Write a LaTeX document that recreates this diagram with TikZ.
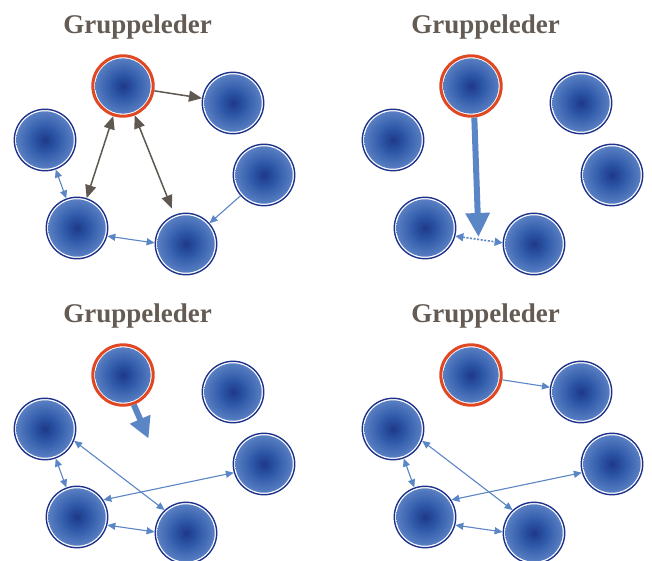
\documentclass[tikz,border=0pt]{standalone}
\usepackage{fontspec}
\setmainfont{Liberation Serif}
\usetikzlibrary{arrows.meta}

\definecolor{titlegray}{RGB}{100,92,84}
\definecolor{linkbrown}{RGB}{95,88,81}
\definecolor{linkblue}{RGB}{91,134,197}
\definecolor{leadred}{RGB}{224,72,36}
\definecolor{ringnavy}{RGB}{30,50,140}
\definecolor{ballin}{RGB}{30,56,136}
\definecolor{ballmid}{RGB}{46,88,168}
\definecolor{ballout}{RGB}{94,132,198}
\pgfdeclareradialshading{ballshade}{\pgfpointorigin}{color(0bp)=(ballin); color(10bp)=(ballmid); color(25bp)=(ballout); color(50bp)=(ballout)}

\tikzset{
  member/.style={circle, inner sep=0pt, minimum size=61.4pt, draw=ringnavy,
    line width=1.4pt, fill=white,
    path picture={\shade[shading=ballshade] (path picture bounding box.center) circle (28.7pt);}},
  leader/.style={circle, inner sep=0pt, minimum size=60.4pt, draw=leadred,
    line width=3pt, fill=white,
    path picture={\shade[shading=ballshade] (path picture bounding box.center) circle (27.7pt);}},
  title/.style={anchor=base, text=titlegray, inner sep=0pt,
    font=\fontsize{27}{32}\selectfont\bfseries},
  boss/.style={draw=linkbrown, line width=1.5pt, -{Triangle[length=13pt,width=11pt]}},
  bossboth/.style={draw=linkbrown, line width=1.5pt,
    {Triangle[length=13pt,width=11pt]}-{Triangle[length=13pt,width=11pt]}},
  peer/.style={draw=linkblue, line width=1.1pt,
    {Triangle[length=8pt,width=7pt]}-{Triangle[length=8pt,width=7pt]}},
  peerone/.style={draw=linkblue, line width=1.1pt, -{Triangle[length=8pt,width=7pt]}},
  peerdotted/.style={draw=linkblue, line width=1.6pt, dash pattern=on 2pt off 1.6pt,
    {Triangle[length=8pt,width=8pt]}-{Triangle[length=8pt,width=8pt]}},
  push/.style={draw=linkblue, line width=6pt, -{Triangle[length=24pt,width=23pt]}},
  pushshort/.style={draw=linkblue, line width=6pt, -{Triangle[length=21pt,width=21pt]}},
}

% six team members with the group leader and the heading of one panel
\newcommand\teamcircles{%
  \node[title] (T) at (137.5,33.5) {Gruppeleder};
  \node[leader] (L) at (123,86) {};
  \node[member] (A) at (233,103) {};
  \node[member] (B) at (45,140) {};
  \node[member] (C) at (264,175) {};
  \node[member] (D) at (77,228) {};
  \node[member] (E) at (186,244) {};
}

\begin{document}
\begin{tikzpicture}[x=1pt, y=-1pt]
\useasboundingbox (0,0) rectangle (652,561);

% panel 1: the leader talks with everyone
\begin{scope}[name prefix=p1-]
  \teamcircles
  \draw[boss] (L) -- (A);
  \draw[bossboth] (L) -- (D);
  \draw[bossboth, shorten >=7pt] (L) -- (E);
  \draw[peer] (B) -- (D);
  \draw[peer] (D.-15) -- (E.178);
  \draw[peerone] (C) -- (E);
\end{scope}

% panel 2: one strong push from the leader
\begin{scope}[shift={(348,0)}, name prefix=p2-]
  \teamcircles
  \coordinate (P) at (130.5,237);
  \draw[push] (L.-84) -- (P);
  \draw[peerdotted] (D.-15) -- (E.178);
\end{scope}

% panel 3: a short push, the members link up
\begin{scope}[shift={(0,289)}, name prefix=p3-]
  \teamcircles
  \coordinate (P) at (148.5,149.5);
  \draw[pushshort] (L.-70) -- (P);
  \draw[peer] (B.-22) -- (E.133);
  \draw[peer] (C.196) -- (D.33);
  \draw[peer] (B) -- (D);
  \draw[peer] (D.-15) -- (E.178);
\end{scope}

% panel 4: a light touch from the leader
\begin{scope}[shift={(348,289)}, name prefix=p4-]
  \teamcircles
  \draw[peerone] (L) -- (A);
  \draw[peer] (B.-22) -- (E.133);
  \draw[peer] (C.196) -- (D.33);
  \draw[peer] (B) -- (D);
  \draw[peer] (D.-15) -- (E.178);
\end{scope}
\end{tikzpicture}
\end{document}
